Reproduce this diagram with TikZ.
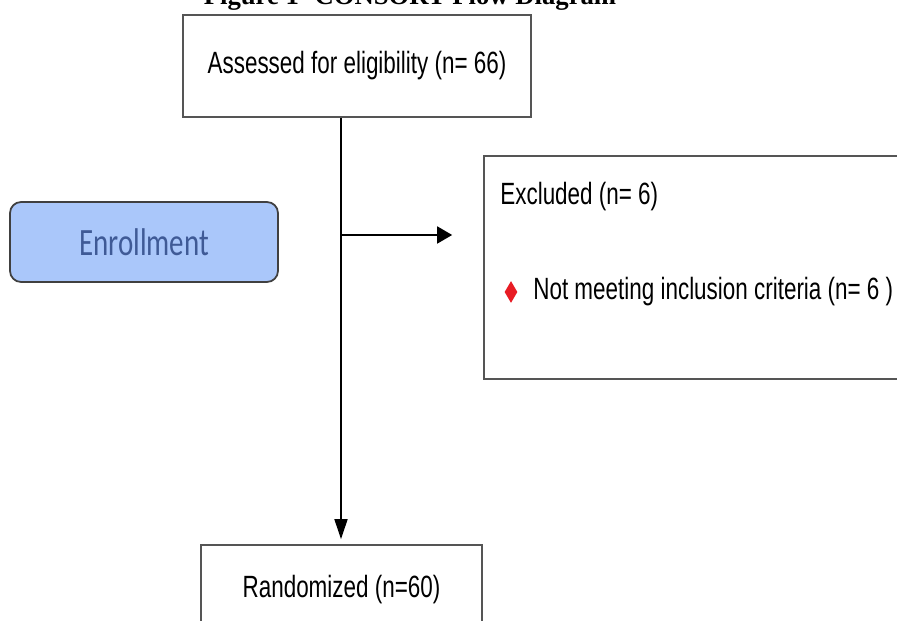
\documentclass[tikz,border=0pt]{standalone}
\usepackage{fontspec}
\setmainfont{Liberation Sans}[FakeStretch=0.73]
\newfontfamily\enrollfont{Carlito}[FakeStretch=0.75]
\newfontfamily\titlefont{Liberation Serif}
\usetikzlibrary{arrows.meta,shapes.geometric}
\definecolor{boxgray}{RGB}{85,85,85}
\definecolor{enrollfill}{RGB}{170,199,250}
\definecolor{enrolltext}{RGB}{63,90,150}
\definecolor{bulletred}{RGB}{232,28,36}

\begin{document}
\begin{tikzpicture}[x=0.02cm,y=-0.02cm,
  box/.style={draw=boxgray, line width=1pt, inner sep=0pt, font=\fontsize{17.5}{21}\selectfont},
  txt/.style={inner sep=0pt, font=\fontsize{17.5}{21}\selectfont},
  enroll/.style={draw=black!75, line width=1pt, fill=enrollfill, rounded corners=0.22cm,
    text=enrolltext, font=\enrollfont\fontsize{22}{26}\selectfont},
  bullet/.style={diamond, fill=bulletred, inner sep=0pt, minimum width=0.26cm, minimum height=0.44cm},
  heading/.style={font=\titlefont\bfseries\fontsize{15.2}{18}\selectfont, inner sep=0pt},
  vflow/.style={line width=1pt, -{Triangle[length=0.4cm,width=0.26cm]}},
  hflow/.style={line width=1pt, -{Triangle[length=0.3cm,width=0.34cm]}}]
\useasboundingbox (0,0) rectangle (897,621);
\clip (0,0) rectangle (897,621);
\node[heading, anchor=base] (title) at (410,5) {Figure 1- CONSORT Flow Diagram};
\node[box, minimum width=6.96cm, minimum height=2.04cm] (assess) at (357,66) {Assessed for eligibility (n= 66)};
\node[enroll, minimum width=5.36cm, minimum height=1.6cm] (enroll) at (144,242) {Enrollment};
\node[box, minimum width=10cm, minimum height=4.46cm] (excl) at (734,267.5) {};
\node[txt, anchor=west] (exclhead) at (500,197) {Excluded (n= 6)};
\node[bullet] (dia) at (511,292) {};
\node[txt, anchor=west] (exclwhy) at (533,292) {Not meeting inclusion criteria (n= 6 )};
\node[box, minimum width=5.62cm, minimum height=1.8cm] (rand) at (341.5,590) {Randomized (n=60)};
\coordinate (split) at (341,235);
\draw[vflow, shorten >=0.1cm] (assess.south -| split) -- (rand.north -| split);
\draw[hflow, shorten >=0.62cm] (split) -- (excl.west |- split);
\end{tikzpicture}
\end{document}
